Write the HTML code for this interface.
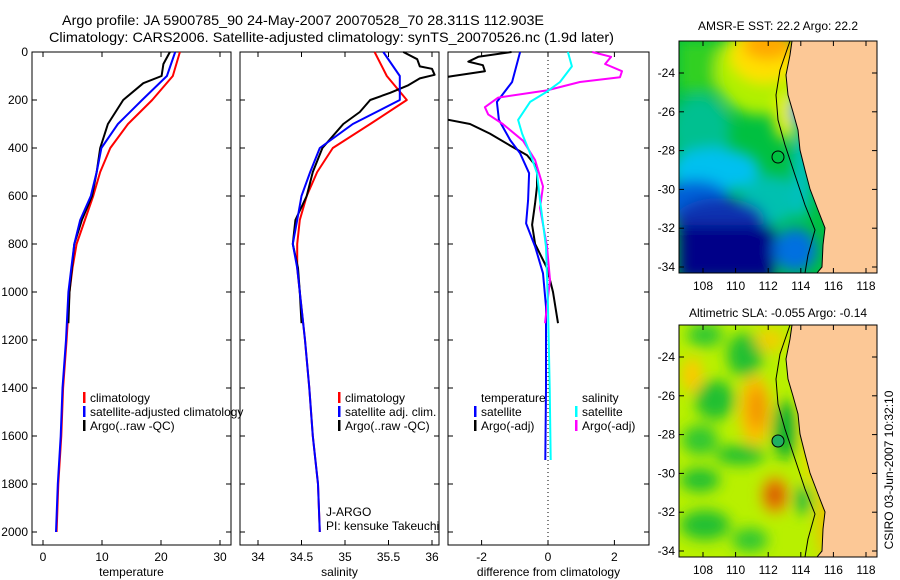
<!DOCTYPE html>
<html><head><meta charset="utf-8"><style>
body{margin:0;background:#fff}
svg{display:block;font-family:"Liberation Sans",sans-serif}
</style></head><body>
<svg id="fig" width="900" height="580" viewBox="0 0 900 580" xmlns="http://www.w3.org/2000/svg">
<defs>
<clipPath id="c1"><rect x="32" y="40" width="199" height="505"/></clipPath>
<clipPath id="c2"><rect x="240" y="40" width="199" height="505"/></clipPath>
<clipPath id="c3"><rect x="448" y="40" width="201" height="505"/></clipPath>
<clipPath id="m1"><rect x="679" y="41" width="198" height="232"/></clipPath>
<clipPath id="m2"><rect x="679" y="325" width="198" height="232"/></clipPath>
<filter id="bl" x="-20%" y="-20%" width="140%" height="140%"><feGaussianBlur stdDeviation="7"/></filter>
</defs>
<text x="62" y="25" font-size="14" textLength="482" lengthAdjust="spacingAndGlyphs">Argo profile: JA 5900785_90 24-May-2007 20070528_70 28.311S 112.903E</text>
<text x="49" y="42" font-size="14" textLength="565" lengthAdjust="spacingAndGlyphs">Climatology: CARS2006. Satellite-adjusted climatology: synTS_20070526.nc (1.9d later)</text>
<g id="axes"></g>
<g id="lines"></g>

<!-- SST map -->
<g>
<text x="778" y="30" font-size="12" text-anchor="middle">AMSR-E SST: 22.2 Argo: 22.2</text>
<g clip-path="url(#m1)">
<rect x="679" y="41" width="198" height="232" fill="#00c040"/>
<g filter="url(#bl)">
<rect x="679" y="41" width="40" height="50" fill="#30d020"/>
<ellipse cx="760" cy="70" rx="45" ry="45" fill="#b0f000"/>
<ellipse cx="765" cy="55" rx="35" ry="28" fill="#ffe000"/>
<ellipse cx="768" cy="45" rx="25" ry="15" fill="#ffa800"/>
<ellipse cx="785" cy="115" rx="12" ry="25" fill="#e0f000"/>
<ellipse cx="700" cy="130" rx="30" ry="35" fill="#00c090"/>
<ellipse cx="715" cy="170" rx="45" ry="22" fill="#00c0f0"/>
<ellipse cx="770" cy="200" rx="30" ry="25" fill="#00c0b0"/>
<ellipse cx="695" cy="200" rx="35" ry="20" fill="#0060d8"/>
<ellipse cx="720" cy="220" rx="45" ry="22" fill="#0830b0"/>
<rect x="679" y="225" width="95" height="55" fill="#000088"/>
<ellipse cx="795" cy="250" rx="22" ry="22" fill="#0070e0"/>
<ellipse cx="802" cy="175" rx="10" ry="45" fill="#00c0c0"/>
<ellipse cx="798" cy="112" rx="7" ry="12" fill="#0080f0"/>
</g>
<polyline points="790,41 780,70 776,95 778,120 785,145 795,175 805,205 815,230 808,255 805,273" fill="none" stroke="#000" stroke-width="1"/>
<polygon points="792,41 790,55 786,75 788,95 793,112 798,130 800,150 805,170 810,189 818,210 825,228 823,245 822,267 817,273 877,273 877,41" fill="#fcc896" stroke="#000" stroke-width="1"/>
<circle cx="778" cy="157" r="6" fill="none" stroke="#000"/>
</g>
<rect x="679" y="41" width="198" height="232" fill="none" stroke="#000"/>
<g id="map1ticks"></g>
</g>

<!-- SLA map -->
<g>
<text x="778" y="317" font-size="12" text-anchor="middle">Altimetric SLA: -0.055 Argo: -0.14</text>
<g clip-path="url(#m2)">
<rect x="679" y="325" width="198" height="232" fill="#b8f000"/>
<g filter="url(#bl)">
<ellipse cx="705" cy="335" rx="18" ry="12" fill="#30c830"/>
<ellipse cx="745" cy="355" rx="18" ry="22" fill="#20c030"/>
<ellipse cx="770" cy="340" rx="15" ry="12" fill="#f0d000"/>
<ellipse cx="692" cy="375" rx="10" ry="18" fill="#ffc800"/>
<ellipse cx="715" cy="400" rx="20" ry="20" fill="#20c030"/>
<ellipse cx="700" cy="440" rx="18" ry="15" fill="#30c830"/>
<ellipse cx="755" cy="410" rx="16" ry="35" fill="#ffc000"/>
<ellipse cx="757" cy="408" rx="8" ry="22" fill="#f09000"/>
<ellipse cx="785" cy="430" rx="12" ry="30" fill="#10b030"/>
<ellipse cx="740" cy="455" rx="25" ry="10" fill="#20c030"/>
<ellipse cx="700" cy="480" rx="20" ry="12" fill="#20c030"/>
<ellipse cx="775" cy="495" rx="13" ry="18" fill="#f08000"/>
<ellipse cx="775" cy="495" rx="6" ry="8" fill="#c03000"/>
<ellipse cx="803" cy="500" rx="8" ry="15" fill="#20b840"/>
<ellipse cx="705" cy="525" rx="25" ry="15" fill="#20c030"/>
<ellipse cx="750" cy="540" rx="18" ry="12" fill="#30c830"/>
<ellipse cx="812" cy="420" rx="8" ry="70" fill="#ffd000"/>
<ellipse cx="825" cy="520" rx="8" ry="40" fill="#f0c000"/>
</g>
<polyline points="790,325 780,354 776,379 778,404 785,429 795,459 805,489 815,514 808,539 805,557" fill="none" stroke="#000" stroke-width="1"/>
<polygon points="792,325 790,339 786,359 788,379 793,396 798,414 800,434 805,454 810,473 818,494 825,512 823,529 822,551 817,557 877,557 877,325" fill="#fcc896" stroke="#000" stroke-width="1"/>
<circle cx="778" cy="441" r="6" fill="#20b060" stroke="#000"/>
</g>
<rect x="679" y="325" width="198" height="232" fill="none" stroke="#000"/>
<g id="map2ticks"></g>
</g>
<text transform="translate(893,470) rotate(-90)" font-size="12" text-anchor="middle">CSIRO 03-Jun-2007 10:32:10</text>
</svg>
<script>
// ---- data ----
const depthTicks=[0,200,400,600,800,1000,1200,1400,1600,1800,2000];
const tempTicks=[0,10,20,30];
const salTicks=[34,34.5,35,35.5,36];
const diffTicks=[-2,0,2];
const lonTicks=[108,110,112,114,116,118];
const latTicks=[-24,-26,-28,-30,-32,-34];

const climDepth=[0,100,200,300,400,500,600,700,800,900,1000,1200,1400,1600,1800,2000];
const tempClim=[23.2,22.0,18.5,14.4,11.4,9.7,8.5,7.1,5.7,5.0,4.5,4.0,3.4,3.1,2.6,2.3];
const tempSat=[22.4,21.0,16.8,12.7,9.9,9.1,8.1,6.3,5.3,4.8,4.3,3.9,3.3,3.0,2.5,2.2];
const salClim=[35.34,35.48,35.71,35.29,34.86,34.68,34.56,34.48,34.45,34.45,34.48,34.54,34.59,34.63,34.69,34.71];
const salSat=[35.44,35.63,35.63,35.09,34.71,34.6,34.5,34.45,34.4,34.45,34.48,34.54,34.59,34.63,34.69,34.71];

const argoTDepth=[0,50,100,130,200,300,400,500,600,700,800,1000,1130];
const tempArgo=[21.5,20.4,20.1,17.0,13.6,11.0,9.7,9.1,8.3,6.6,5.3,4.5,4.3];
const argoSDepth=[0,30,60,70,95,110,140,170,200,250,300,400,500,600,700,800,900,1000,1130];
const salArgo=[35.67,35.83,35.86,36.0,36.03,35.86,35.72,35.52,35.29,35.17,34.98,34.74,34.63,34.56,34.43,34.4,34.46,34.48,34.5];

const dTSatDepth=[0,125,208,283,367,422,505,617,714,811,922,1061,1400,1700];
const dTSat=[-0.84,-1.08,-1.54,-1.48,-1.14,-0.84,-0.57,-0.6,-0.66,-0.39,-0.15,-0.06,-0.06,-0.08];
const dSSatDepth=[0,60,125,165,208,283,340,422,505,617,811,1061,1400,1700];
const dSSat=[0.6,0.72,0.36,-0.03,-0.54,-0.9,-0.78,-0.54,-0.33,-0.24,-0.06,0.0,0.05,0.08];
const dSArgoDepth=[0,20,50,80,105,125,160,190,230,260,300,370,450,560,650,810,950,1130];
const dSArgo=[1.33,1.9,1.72,2.23,2.17,0.96,-0.03,-1.5,-1.9,-1.8,-1.36,-0.75,-0.39,-0.15,-0.24,-0.03,0.06,-0.09];
const dTArgoDepth=[0,20,40,55,80,100,110,280,300,340,390,430,480,560,630,720,800,900,1000,1130];
const dTArgo=[-1.1,-2.1,-2.4,-1.96,-1.9,-2.86,-3.3,-3.1,-2.35,-1.75,-1.14,-0.63,-0.33,-0.33,-0.39,-0.48,-0.39,-0.03,0.15,0.3];

// ---- scales ----
const yD=d=>52+0.24*d;
const xT=t=>43+5.9*t;
const xS=s=>258+87*(s-34);
const xDf=v=>548+33.2*v;
const lonX=l=>703+(l-108)*16.3;
const latY=(l,off)=>73+off+(-24-l)*19.4;

const NS='http://www.w3.org/2000/svg';
function mk(tag,attrs,parent){const e=document.createElementNS(NS,tag);for(const k in attrs)e.setAttribute(k,attrs[k]);parent.appendChild(e);return e;}
const axes=document.getElementById('axes');
const lines=document.getElementById('lines');

const panels=[
 {x0:32,w:199,ticks:tempTicks,sx:xT,label:'temperature',name:'temperature-panel',ylab:true},
 {x0:240,w:199,ticks:salTicks,sx:xS,label:'salinity',name:'salinity-panel'},
 {x0:448,w:201,ticks:diffTicks,sx:xDf,label:'difference from climatology',name:'difference-panel'}
];
panels.forEach(p=>{
 const g=mk('g',{},axes);
 
 
 const r=mk('rect',{x:p.x0,y:52,width:p.w,height:493,fill:'none',stroke:'#000'},g);
 
 
 p.ticks.forEach(t=>{
  const x=p.sx(t);
  mk('line',{x1:x,x2:x,y1:545,y2:540,stroke:'#000'},g);
  mk('line',{x1:x,x2:x,y1:52,y2:57,stroke:'#000'},g);
  const tx=mk('text',{x:x,y:561,'font-size':12,'text-anchor':'middle'},g);
  tx.textContent=(t<0?'-':'')+Math.abs(t);
  
  
 });
 depthTicks.forEach(d=>{
  const y=yD(d);
  mk('line',{x1:p.x0,x2:p.x0+5,y1:y,y2:y,stroke:'#000'},g);
  mk('line',{x1:p.x0+p.w,x2:p.x0+p.w-5,y1:y,y2:y,stroke:'#000'},g);
  if(p.ylab){
   const tx=mk('text',{x:28,y:y+4,'font-size':12,'text-anchor':'end'},g);
   tx.textContent=d;
   
   
  }
 });
 const xl=mk('text',{x:p.x0+p.w/2,y:576,'font-size':12,'text-anchor':'middle'},g);
 xl.textContent=p.label;
 
 
});
const zl=mk('line',{x1:xDf(0),x2:xDf(0),y1:52,y2:545,stroke:'#000','stroke-dasharray':'1,3'},axes);



function series(depths,vals,sx,color,clip,name,w){
 const pts=depths.map((d,i)=>sx(vals[i]).toFixed(1)+','+yD(d).toFixed(1)).join(' ');
 const pl=mk('polyline',{points:pts,fill:'none',stroke:color,'stroke-width':w||2,'stroke-linejoin':'round','clip-path':'url(#'+clip+')'},lines);
 
 
}
series(climDepth,tempClim,xT,'#ff0000','c1','temperature-climatology-line');
series(argoTDepth,tempArgo,xT,'#000000','c1','temperature-argo-line');
series(climDepth,tempSat,xT,'#0000ff','c1','temperature-satellite-line');
series(climDepth,salClim,xS,'#ff0000','c2','salinity-climatology-line');
series(argoSDepth,salArgo,xS,'#000000','c2','salinity-argo-line');
series(climDepth,salSat,xS,'#0000ff','c2','salinity-satellite-line');
series(dTArgoDepth,dTArgo,xDf,'#000000','c3','diff-temp-argo-line');
series(dTSatDepth,dTSat,xDf,'#0000ff','c3','diff-temp-satellite-line');
series(dSArgoDepth,dSArgo,xDf,'#ff00ff','c3','diff-sal-argo-line');
series(dSSatDepth,dSSat,xDf,'#00ffff','c3','diff-sal-satellite-line');

function legend(x,y,color,label){
 if(color){const b=mk('rect',{x:x-7,y:y-10,width:2.5,height:11,fill:color},axes);
  
  }
 const t=mk('text',{x:x,y:y,'font-size':12},axes);
 t.textContent=label;
 
 
}
legend(90,402,'#ff0000','climatology');
legend(90,416,'#0000ff','satellite-adjusted climatology');
legend(90,430,'#000000','Argo(..raw -QC)');
legend(345,402,'#ff0000','climatology');
legend(345,416,'#0000ff','satellite adj. clim.');
legend(345,430,'#000000','Argo(..raw -QC)');
legend(326,516,null,'J-ARGO');
legend(326,530,null,'PI: kensuke Takeuchi');
legend(481,402,null,'temperature');
legend(481,416,'#0000ff','satellite');
legend(481,430,'#000000','Argo(-adj)');
legend(582,402,null,'salinity');
legend(582,416,'#00ffff','satellite');
legend(582,430,'#ff00ff','Argo(-adj)');

function mapTicks(id,off){
 const g=document.getElementById(id);
 lonTicks.forEach(l=>{
  const x=lonX(l);
  mk('line',{x1:x,x2:x,y1:273+off,y2:268+off,stroke:'#000'},g);
  mk('line',{x1:x,x2:x,y1:41+off,y2:46+off,stroke:'#000'},g);
  const t=mk('text',{x:x,y:290+off,'font-size':12,'text-anchor':'middle'},g);
  t.textContent=l;
  
  
 });
 latTicks.forEach(l=>{
  const y=latY(l,off);
  mk('line',{x1:679,x2:684,y1:y,y2:y,stroke:'#000'},g);
  mk('line',{x1:877,x2:872,y1:y,y2:y,stroke:'#000'},g);
  const t=mk('text',{x:675,y:y+4,'font-size':12,'text-anchor':'end'},g);
  t.textContent=l;
  
  
 });
}
mapTicks('map1ticks',0);
mapTicks('map2ticks',284);
</script>
</body></html>
